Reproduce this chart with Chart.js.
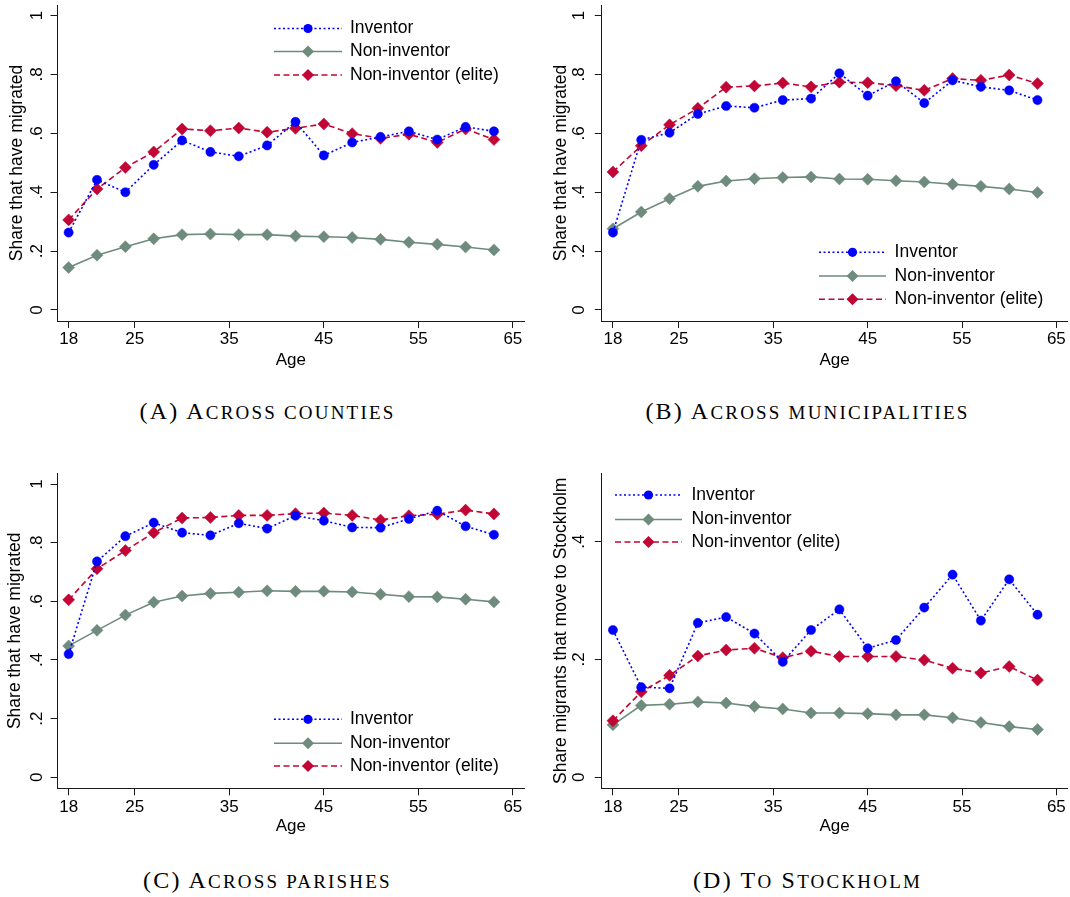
<!DOCTYPE html>
<html>
<head>
<meta charset="utf-8">
<script src="https://cdn.jsdelivr.net/npm/chart.js@4.4.1/dist/chart.umd.min.js"></script>
<style>
  body { margin: 0; background: #fff; width: 1070px; height: 897px; position: relative; overflow: hidden; }
  canvas { position: absolute; }
  .cap { position: absolute; width: 535px; text-align: center; font-family: "Liberation Serif", serif;
         font-size: 24px; line-height: 26px; color: #000; letter-spacing: 2.2px; }
  .cap small { font-size: 19px; }
</style>
</head>
<body>
<canvas id="cA" width="535" height="380" style="left:0;top:0"></canvas>
<canvas id="cB" width="535" height="380" style="left:535px;top:0"></canvas>
<canvas id="cC" width="535" height="380" style="left:0;top:460px"></canvas>
<canvas id="cD" width="535" height="380" style="left:535px;top:460px"></canvas>
<div class="cap" style="left:0;top:398px">(A) A<small>CROSS COUNTIES</small></div>
<div class="cap" style="left:540px;top:398px">(B) A<small>CROSS MUNICIPALITIES</small></div>
<div class="cap" style="left:0;top:867px">(C) A<small>CROSS PARISHES</small></div>
<div class="cap" style="left:540px;top:867px">(D) T<small>O</small> S<small>TOCKHOLM</small></div>
<script>
const ages = [18, 21, 24, 27, 30, 33, 36, 39, 42, 45, 48, 51, 54, 57, 60, 63];
const xTicks = [18, 25, 35, 45, 55, 65];
const shareTicks = [0, 0.2, 0.4, 0.6, 0.8, 1];
const stockholmTicks = [0, 0.2, 0.4];
const seriesNames = ['Inventor', 'Non-inventor', 'Non-inventor (elite)'];

// (A) across counties
const countiesInventor = [0.263, 0.442, 0.400, 0.493, 0.576, 0.537, 0.522, 0.559, 0.639, 0.525, 0.569, 0.588, 0.607, 0.579, 0.622, 0.607];
const countiesNon      = [0.144, 0.186, 0.215, 0.242, 0.256, 0.258, 0.256, 0.256, 0.251, 0.249, 0.246, 0.240, 0.230, 0.223, 0.214, 0.204];
const countiesElite    = [0.306, 0.411, 0.484, 0.537, 0.615, 0.609, 0.618, 0.604, 0.617, 0.632, 0.599, 0.583, 0.597, 0.569, 0.615, 0.579];
// (B) across municipalities
const muniInventor = [0.263, 0.578, 0.602, 0.666, 0.693, 0.687, 0.713, 0.718, 0.804, 0.728, 0.777, 0.703, 0.780, 0.758, 0.746, 0.713];
const muniNon      = [0.276, 0.333, 0.378, 0.420, 0.438, 0.446, 0.450, 0.452, 0.445, 0.444, 0.439, 0.435, 0.427, 0.420, 0.411, 0.399];
const muniElite    = [0.469, 0.558, 0.629, 0.685, 0.757, 0.761, 0.771, 0.758, 0.774, 0.772, 0.762, 0.746, 0.786, 0.780, 0.798, 0.769];
// (C) across parishes
const parishInventor = [0.420, 0.736, 0.822, 0.868, 0.834, 0.825, 0.866, 0.848, 0.892, 0.875, 0.852, 0.851, 0.881, 0.909, 0.856, 0.827];
const parishNon      = [0.448, 0.501, 0.553, 0.597, 0.618, 0.627, 0.631, 0.636, 0.634, 0.634, 0.632, 0.624, 0.616, 0.615, 0.607, 0.598];
const parishElite    = [0.605, 0.711, 0.773, 0.834, 0.884, 0.886, 0.893, 0.893, 0.899, 0.901, 0.893, 0.877, 0.892, 0.897, 0.911, 0.898];
// (D) to Stockholm
const stockInventor = [0.250, 0.153, 0.151, 0.262, 0.272, 0.244, 0.196, 0.250, 0.285, 0.219, 0.233, 0.288, 0.344, 0.266, 0.336, 0.276];
const stockNon      = [0.089, 0.122, 0.124, 0.128, 0.126, 0.120, 0.116, 0.109, 0.109, 0.108, 0.106, 0.106, 0.101, 0.093, 0.086, 0.081];
const stockElite    = [0.096, 0.145, 0.173, 0.206, 0.216, 0.219, 0.203, 0.214, 0.205, 0.205, 0.205, 0.199, 0.185, 0.177, 0.188, 0.165];

const BLUE = '#0000ff', GREY = '#6e8b7d', RED = '#c10534', AXIS = '#1a1a1a';
const FONT = 'Liberation Sans, Arial, sans-serif';

function marker(ctx, style, r, x, y, color) {
    ctx.fillStyle = color;
    ctx.beginPath();
    if (style === 'circle') ctx.arc(x, y, r, 0, Math.PI * 2);
    else { ctx.moveTo(x - r, y); ctx.lineTo(x, y - r); ctx.lineTo(x + r, y); ctx.lineTo(x, y + r); ctx.closePath(); }
    ctx.fill();
}

// Stata-like legend: line sample with marker in the middle
const stataLegend = {
    id: 'stataLegend',
    afterDraw(chart, args, opts) {
        const ctx = chart.ctx;
        ctx.save();
        chart.data.datasets.forEach((ds, i) => {
            const y = opts.rows[i];
            ctx.strokeStyle = ds.borderColor;
            ctx.lineWidth = ds.borderWidth;
            ctx.setLineDash(ds.borderDash || []);
            ctx.beginPath();
            ctx.moveTo(opts.x1, y);
            ctx.lineTo(opts.x2, y);
            ctx.stroke();
            ctx.setLineDash([]);
            marker(ctx, ds.pointStyle, ds.pointRadius, (opts.x1 + opts.x2) / 2, y, ds.borderColor);
            ctx.fillStyle = '#000';
            ctx.font = '17.5px ' + FONT;
            ctx.textBaseline = 'middle';
            ctx.fillText(ds.label, opts.tx, y);
        });
        ctx.restore();
    }
};

function fmt(v) {
    return v === 0 ? '0' : String(v).replace(/^0/, '');
}

function makeChart(id, inv, non, elite, yTicks, yMin, yMax, yTitle, box, legend) {
    const pts = arr => arr.map((v, i) => ({ x: ages[i], y: v }));
    new Chart(document.getElementById(id), {
        type: 'line',
        data: {
            datasets: [
                { label: seriesNames[0], data: pts(inv), borderColor: BLUE, backgroundColor: BLUE, borderWidth: 1.6,
                  borderDash: [2, 2.5], pointStyle: 'circle', pointRadius: 4.6, pointBorderWidth: 0.5, order: 0 },
                { label: seriesNames[1], data: pts(non), borderColor: GREY, backgroundColor: GREY, borderWidth: 1.6,
                  pointStyle: 'rectRot', pointRadius: 6, pointBorderWidth: 0.5, order: 2 },
                { label: seriesNames[2], data: pts(elite), borderColor: RED, backgroundColor: RED, borderWidth: 1.6,
                  borderDash: [6, 3.5], pointStyle: 'rectRot', pointRadius: 6, pointBorderWidth: 0.5, order: 1 }
            ]
        },
        options: {
            responsive: false,
            animation: false,
            events: [],
            layout: { autoPadding: false, padding: { left: 0, top: box.top, right: 535 - box.right, bottom: 0 } },
            plugins: { legend: { display: false }, tooltip: { enabled: false }, stataLegend: legend },
            elements: { line: { tension: 0 } },
            scales: {
                x: {
                    type: 'linear', min: 16.82, max: 66.18,
                    afterBuildTicks: s => { s.ticks = xTicks.map(v => ({ value: v })); },
                    afterFit: s => { s.height = 380 - box.bottom; s.paddingLeft = 0; s.paddingRight = 0; },
                    ticks: { font: { family: FONT, size: 17 }, color: '#000', padding: 1.5, maxRotation: 0, autoSkip: false },
                    grid: { drawOnChartArea: false, tickLength: 7, tickColor: AXIS, color: AXIS },
                    border: { display: true, color: AXIS, width: 1 },
                    title: { display: true, text: 'Age', color: '#000', font: { family: FONT, size: 17 },
                             padding: { top: 0, bottom: box.agePad } }
                },
                y: {
                    type: 'linear', min: yMin, max: yMax,
                    afterBuildTicks: s => { s.ticks = yTicks.map(v => ({ value: v })); },
                    afterFit: s => { s.width = box.left; s.paddingTop = 0; s.paddingBottom = 0; },
                    ticks: { font: { family: FONT, size: 17 }, color: '#000', minRotation: 90, maxRotation: 90,
                             crossAlign: 'center', padding: box.tickPad, callback: v => fmt(v) },
                    grid: { drawOnChartArea: false, tickLength: 7, tickColor: AXIS, color: AXIS },
                    border: { display: true, color: AXIS, width: 1 },
                    title: { display: true, text: yTitle, color: '#000', font: { family: FONT, size: 17.5 },
                             padding: { top: box.titlePad, bottom: 0 } }
                }
            }
        },
        plugins: [stataLegend]
    });
}

const boxLeft = { left: 57.5, right: 524, top: 5, bottom: 321, agePad: 9.8, tickPad: 6.4, titlePad: 6.5 };
const boxRight = { left: 66.8, right: 532.5, top: 5, bottom: 321, agePad: 9.8, tickPad: 8.2, titlePad: 15.2 };
const boxLeftLow = { left: 57.5, right: 524, top: 13.3, bottom: 328.3, agePad: 3.1, tickPad: 6.4, titlePad: 5 };
const boxRightLow = { left: 66.8, right: 532.5, top: 13.3, bottom: 328.3, agePad: 3.1, tickPad: 8.2, titlePad: 15.2 };

makeChart('cA', countiesInventor, countiesNon, countiesElite, shareTicks, -0.0374, 1.036,
    'Share that have migrated', boxLeft, { x1: 274, x2: 342, tx: 350, rows: [28.5, 51.5, 75] });
makeChart('cB', muniInventor, muniNon, muniElite, shareTicks, -0.0374, 1.036,
    'Share that have migrated', boxRight, { x1: 284, x2: 351, tx: 359.6, rows: [252.3, 276, 299.3] });
makeChart('cC', parishInventor, parishNon, parishElite, shareTicks, -0.0375, 1.0365,
    'Share that have migrated', boxLeftLow, { x1: 274, x2: 342, tx: 350, rows: [259.3, 283.3, 306] });
makeChart('cD', stockInventor, stockNon, stockElite, stockholmTicks, -0.0187, 0.516,
    'Share migrants that move to Stockholm', boxRightLow, { x1: 80, x2: 147, tx: 156.5, rows: [35, 59.5, 82] });
</script>
</body>
</html>
